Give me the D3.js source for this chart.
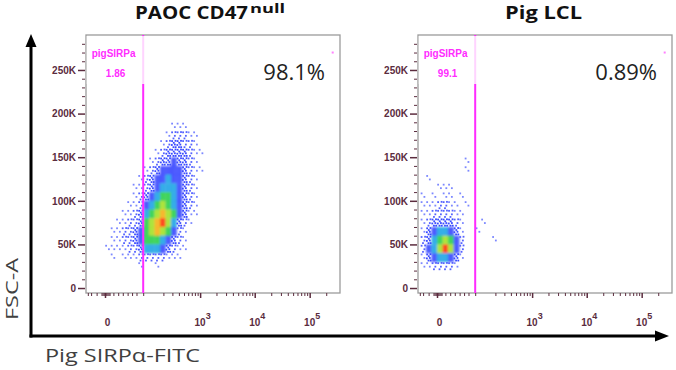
<!DOCTYPE html>
<html>
<head>
<meta charset="utf-8">
<script src="https://cdn.jsdelivr.net/npm/d3@7"></script>
<style>
  body { margin: 0; background: #fff; }
  svg { display: block; }
</style>
</head>
<body>
<div id="chart"></div>
<script>
// ---- data ----
const panelTitles = ["PAOC CD47", "Pig LCL"];
const titleSup = ["null", ""];
const percentLabels = ["98.1%", "0.89%"];
const gateName = "pigSIRPa";
const gateValues = ["1.86", "99.1"];
const gateCut = 75;                 // FITC value of the gate line
const gateCorner = [262144, 270000];

const yTickValues = [0, 50000, 100000, 150000, 200000, 250000];
const yTickLabels = ["0", "50K", "100K", "150K", "200K", "250K"];
const xTickValues = [0, 1000, 10000, 100000];
const xTickBase = ["0", "10", "10", "10"];
const xTickExp = ["", "3", "4", "5"];
const xMinorTicks = [-20, -15, -8, -3, -2, -1, 1, 2, 3, 4, 8, 14, 21, 30, 40, 52, 75,
  200, 300, 400, 500, 600, 700, 800, 900,
  2000, 3000, 4000, 5000, 6000, 7000, 8000, 9000,
  20000, 30000, 40000, 50000, 60000, 70000, 80000, 90000, 200000];

// density bins: FITC bin edges (columns) and FSC bin edges in K (rows, top first)
const fitcEdges = [-19, -11, -5, 0, 5, 11, 19, 29, 41, 57, 76, 101, 132, 171, 220, 282, 360, 458, 582, 738, 935, 1183];
const fscEdgesK = [190, 180, 170, 160, 150, 140, 130, 120, 110, 100, 90, 80, 70, 60, 50, 40, 30, 20];

// density level 0-9 per bin
const densityPAOC = [
  [0,0,0,0,0,0,0,0,0,0,0,0,0,0,0,1,1,1,0,0,0],
  [0,0,0,0,0,0,0,0,0,0,0,0,0,0,1,2,2,2,1,1,0],
  [0,0,0,0,0,0,0,0,0,0,0,0,0,1,2,3,3,2,2,1,0],
  [0,0,0,0,0,0,0,0,0,0,0,0,1,2,3,3,3,3,2,1,1],
  [0,0,0,0,0,0,0,0,0,0,0,1,2,3,3,4,3,3,2,1,0],
  [0,0,0,0,0,0,0,0,0,0,1,2,3,4,4,4,4,3,2,1,1],
  [0,0,0,0,0,0,0,0,0,1,2,3,4,4,5,4,4,3,2,1,0],
  [0,0,0,0,0,0,0,0,1,1,2,3,4,5,5,5,4,3,2,1,0],
  [0,0,0,0,0,0,0,0,1,2,3,4,5,6,6,5,4,3,2,1,0],
  [0,0,0,0,0,0,0,1,1,2,4,5,6,7,6,5,4,3,2,1,0],
  [0,0,0,0,0,0,1,1,2,3,5,6,7,8,7,6,4,3,1,1,0],
  [0,0,0,0,0,1,1,2,2,3,6,7,8,9,7,5,3,2,1,0,0],
  [0,0,0,0,1,1,2,2,3,4,6,7,8,7,6,4,2,1,0,0,0],
  [0,0,0,0,1,1,2,2,3,4,6,6,6,5,4,3,2,1,0,0,0],
  [0,0,0,1,1,1,1,2,2,3,5,5,5,4,3,2,1,1,0,0,0],
  [0,0,0,0,1,0,1,1,1,2,2,2,2,2,1,1,1,0,0,0,0],
  [0,0,0,0,0,0,0,0,0,1,0,0,1,0,0,0,0,0,0,0,0]
];
const densityLCL = [
  [0,0,0,0,0,0,0,0,0,0,0,0,0,0,0,0,0,0,0,0,0],
  [0,0,0,0,0,0,0,0,0,0,0,0,0,0,0,0,0,0,0,0,0],
  [0,0,0,0,0,0,0,0,0,0,0,0,0,0,0,0,0,0,0,0,0],
  [0,0,0,0,0,0,0,0,0,0,0,0,0,0,0,0,0,0,0,0,0],
  [0,0,0,0,0,0,0,0,1,0,0,0,0,0,0,0,0,0,0,0,0],
  [0,0,0,0,0,0,0,0,1,0,0,0,0,0,0,0,0,0,0,0,0],
  [0,1,0,0,0,0,0,0,0,0,0,0,0,0,0,0,0,0,0,0,0],
  [0,0,0,1,1,1,0,0,0,0,0,0,0,0,0,0,0,0,0,0,0],
  [1,0,1,0,1,1,0,1,0,0,0,0,0,0,0,0,0,0,0,0,0],
  [1,1,1,2,2,1,1,0,1,0,0,0,0,0,0,0,0,0,0,0,0],
  [1,1,2,2,2,2,1,1,0,0,0,0,0,0,0,0,0,0,0,0,0],
  [1,2,3,3,3,3,2,1,0,0,0,1,0,0,0,0,0,0,0,0,0],
  [1,3,4,5,5,4,3,1,0,0,1,0,0,0,0,0,0,0,0,0,0],
  [2,3,5,6,7,6,4,2,0,0,0,0,0,1,0,0,0,0,0,0,0],
  [2,4,5,7,9,7,4,2,0,0,0,0,0,0,0,0,0,0,0,0,0],
  [1,3,4,5,5,4,3,1,0,0,0,0,0,0,0,0,0,0,0,0,0],
  [1,1,2,2,2,2,1,0,0,0,0,0,0,0,0,0,0,0,0,0,0]
];
const densities = [densityPAOC, densityLCL];

// ---- layout ----
const width = 676, height = 370;
const panelX = [86, 418], panelY = 35;
const pw = 254, ph = 258;
const tickColor = "#5b2c3e";
const magenta = "#ff2bff";
const levelColor = [null, "#7c88ff", "#5462ff", "#3a4bff", "#2436ff", "#22a6e6", "#30d050", "#a6e22c", "#f6b21e", "#ff3a12"];
const dotCount = [0, 2, 4, 7];
const dotPattern = [[0.2, 0.15], [0.7, 0.55], [0.45, 0.85], [0.82, 0.12], [0.15, 0.6], [0.5, 0.35], [0.85, 0.85], [0.3, 0.4], [0.6, 0.7]];

const x = d3.scaleSymlog().constant(19).domain([-23.1, 356000]).range([0, pw]);
const y = d3.scaleLinear().domain([-5700, 290100]).range([ph, 0]);
const yMinor = d3.range(0, 290000, 10000).filter(v => v % 50000 !== 0);

const svg = d3.create("svg")
  .attr("width", width)
  .attr("height", height)
  .attr("viewBox", [0, 0, width, height]);
d3.select("#chart").append(() => svg.node());

svg.append("defs").append("filter").attr("id", "soft")
  .append("feGaussianBlur").attr("stdDeviation", 0.9);

panelX.forEach((px, i) => {
  const g = svg.append("g").attr("transform", `translate(${px},${panelY})`);

  g.append("rect")
    .attr("width", pw).attr("height", ph)
    .attr("fill", "#fff").attr("stroke", "#9b9b9b").attr("stroke-width", 1.3);

  // density cells
  const cells = [];
  densities[i].forEach((row, r) => row.forEach((lv, c) => {
    if (lv) cells.push({
      lv,
      x0: x(fitcEdges[c]), x1: x(fitcEdges[c + 1]),
      y0: y(fscEdgesK[r] * 1000), y1: y(fscEdgesK[r + 1] * 1000)
    });
  }));

  g.append("g").attr("filter", "url(#soft)")
    .selectAll("rect")
    .data(cells.filter(d => d.lv >= 4))
    .join("rect")
    .attr("x", d => d.x0).attr("y", d => d.y0)
    .attr("width", d => d.x1 - d.x0 + 0.3).attr("height", d => d.y1 - d.y0 + 0.3)
    .attr("fill", d => levelColor[d.lv])
    .attr("opacity", d => d.lv === 4 ? 0.82 : 0.92);

  const dots = [];
  cells.filter(d => d.lv < 4).forEach(d => {
    dotPattern.slice(0, dotCount[d.lv]).forEach(p => dots.push({
      cx: d.x0 + p[0] * (d.x1 - d.x0), cy: d.y0 + p[1] * (d.y1 - d.y0), lv: d.lv
    }));
  });
  g.append("g").selectAll("rect")
    .data(dots)
    .join("rect")
    .attr("x", d => d.cx - 0.9).attr("y", d => d.cy - 0.9)
    .attr("width", 1.8).attr("height", 1.8)
    .attr("fill", d => levelColor[d.lv]);

  // gate
  g.append("line")
    .attr("x1", x(gateCut)).attr("x2", x(gateCut))
    .attr("y1", 0).attr("y2", ph)
    .attr("stroke", magenta).attr("stroke-width", 2);
  g.append("rect")
    .attr("x", 0.7).attr("y", 1).attr("width", x(gateCut) + 3).attr("height", 48)
    .attr("fill", "#fff").attr("opacity", 0.8);
  g.append("rect")
    .attr("x", x(gateCorner[0]) - 1).attr("y", y(gateCorner[1]) - 1)
    .attr("width", 2).attr("height", 2).attr("fill", "#ff80ff");
  const gl = g.append("g")
    .attr("fill", magenta).attr("font-family", "Liberation Sans, Arial, sans-serif")
    .attr("font-weight", "bold").attr("font-size", 10).attr("text-anchor", "middle");
  gl.append("text").attr("x", x(gateCut) / 2 - 1).attr("y", 22).text(gateName);
  gl.append("text").attr("x", x(gateCut) / 2 + 1).attr("y", 42).text(gateValues[i]);

  // percent
  g.append("text")
    .attr("x", pw - 15).attr("y", 45)
    .attr("text-anchor", "end")
    .attr("font-family", "Open Sans, sans-serif").attr("font-size", 22)
    .attr("fill", "#222")
    .text(percentLabels[i]);

  // y axis
  g.append("g")
    .call(d3.axisLeft(y).tickValues(yMinor).tickSize(3).tickFormat(""))
    .call(s => s.select(".domain").remove())
    .call(s => s.selectAll("line").attr("stroke", tickColor).attr("transform", "translate(-1,0)"));
  g.append("g")
    .call(d3.axisLeft(y).tickValues(yTickValues).tickSize(7).tickPadding(3)
      .tickFormat((d, k) => yTickLabels[k]))
    .call(s => s.select(".domain").remove())
    .call(s => s.selectAll("line").attr("stroke", tickColor).attr("stroke-width", 1.5).attr("transform", "translate(-1,0)"))
    .call(s => s.selectAll("text")
      .attr("fill", tickColor).attr("font-family", "Liberation Sans, Arial, sans-serif")
      .attr("font-weight", "bold").attr("font-size", 10));

  // x axis
  g.append("g").attr("transform", `translate(0,${ph})`)
    .call(d3.axisBottom(x).tickValues(xMinorTicks).tickSize(3).tickFormat(""))
    .call(s => s.select(".domain").remove())
    .call(s => s.selectAll("line").attr("stroke", tickColor));
  const xa = g.append("g").attr("transform", `translate(0,${ph})`)
    .call(d3.axisBottom(x).tickValues(xTickValues).tickSize(5).tickFormat(""))
    .call(s => s.select(".domain").remove())
    .call(s => s.selectAll("line").attr("stroke", tickColor).attr("stroke-width", 1.5));
  const lab = xa.selectAll(".xl")
    .data(xTickValues)
    .join("text")
    .attr("class", "xl")
    .attr("x", d => x(d) + 2.5).attr("y", 33)
    .attr("text-anchor", "middle")
    .attr("fill", tickColor).attr("font-family", "Liberation Sans, Arial, sans-serif")
    .attr("font-weight", "bold").attr("font-size", 10);
  lab.append("tspan").text((d, k) => xTickBase[k]);
  lab.append("tspan").attr("dy", -7).attr("font-size", 9).text((d, k) => xTickExp[k]);

  // title
  const tg = svg.append("g")
    .attr("font-family", "Open Sans, sans-serif").attr("font-weight", "bold").attr("fill", "#111");
  if (titleSup[i]) {
    tg.append("text").attr("x", px + 49).attr("y", 19)
      .attr("font-size", 17.5).attr("textLength", 113).attr("lengthAdjust", "spacingAndGlyphs")
      .text(panelTitles[i]);
    tg.append("text").attr("x", px + 164).attr("y", 12.5)
      .attr("font-size", 12).attr("textLength", 35).attr("lengthAdjust", "spacingAndGlyphs")
      .text(titleSup[i]);
  } else {
    tg.append("text").attr("x", px + 87).attr("y", 19)
      .attr("font-size", 17.5).attr("textLength", 77).attr("lengthAdjust", "spacingAndGlyphs")
      .text(panelTitles[i]);
  }
});

// outer arrows
svg.append("line").attr("x1", 31).attr("x2", 31).attr("y1", 337.5).attr("y2", 44)
  .attr("stroke", "#000").attr("stroke-width", 3);
svg.append("path").attr("d", "M31,34L25.5,47L36.5,47Z").attr("fill", "#000");
svg.append("line").attr("x1", 29.5).attr("x2", 658).attr("y1", 336).attr("y2", 336)
  .attr("stroke", "#000").attr("stroke-width", 3);
svg.append("path").attr("d", "M669,336L655,330.5L655,341.5Z").attr("fill", "#000");

// axis titles
svg.append("text")
  .attr("transform", "translate(17.5,289) rotate(-90)")
  .attr("text-anchor", "middle")
  .attr("font-family", "Open Sans, sans-serif").attr("font-size", 17).attr("fill", "#404040")
  .attr("textLength", 62).attr("lengthAdjust", "spacingAndGlyphs")
  .text("FSC-A");
svg.append("text")
  .attr("x", 45).attr("y", 362)
  .attr("font-family", "Open Sans, sans-serif").attr("font-size", 19).attr("fill", "#404040")
  .attr("textLength", 155).attr("lengthAdjust", "spacingAndGlyphs")
  .text("Pig SIRPα-FITC");
</script>
</body>
</html>
